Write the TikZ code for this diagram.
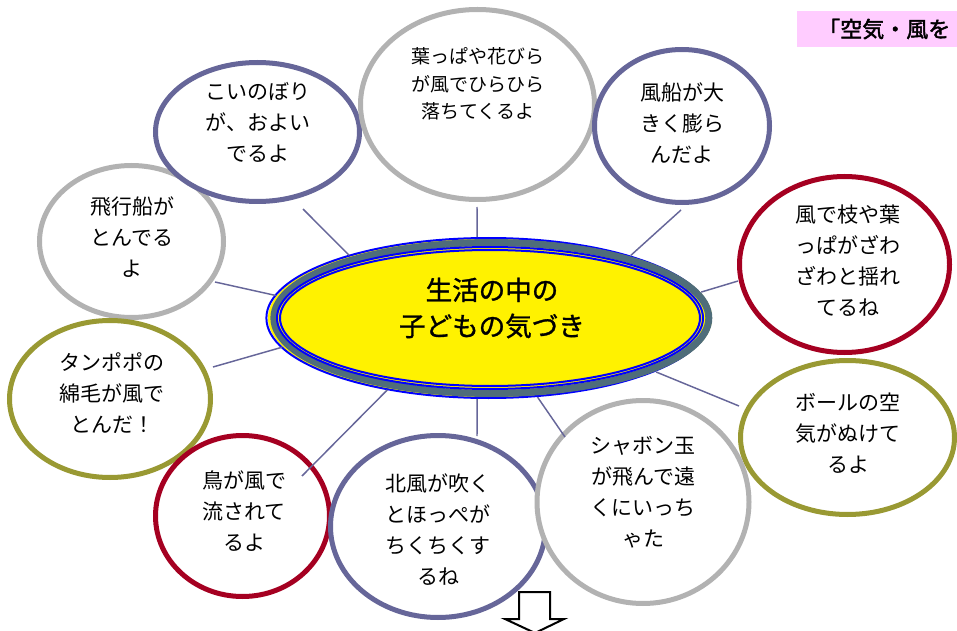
\documentclass[tikz,border=0pt]{standalone}
\usepackage{fontspec}
\setmainfont{Noto Sans CJK JP}
\newfontfamily\jpbold[FakeBold=2]{Noto Sans CJK JP}
\newfontfamily\jpmed[FakeBold=1.2]{Noto Sans CJK JP}
\usetikzlibrary{shapes.geometric}
\definecolor{slate}{HTML}{666699}
\definecolor{ringgray}{HTML}{B2B2B2}
\definecolor{ringred}{HTML}{A50021}
\definecolor{olive}{HTML}{999933}
\definecolor{band}{HTML}{4F6D7A}
\definecolor{pinklab}{HTML}{FFCCFF}
\begin{document}
\begin{tikzpicture}[x=0.75pt,y=-0.75pt,
  ring/.style n args={3}{ellipse, draw=#1, fill=white, line width=3.75pt,
    inner sep=0pt, outer sep=0pt,
    minimum width={(#2-5)*0.75pt}, minimum height={(#3-5)*0.75pt}},
  txt/.style={align=center, inner sep=0pt, font=\fontsize{15.75}{23.25}\selectfont},
  txtsmall/.style={align=center, inner sep=0pt, font=\fontsize{14.25}{20.6}\selectfont},
  conn/.style={draw=slate, line width=1.1pt}]
\useasboundingbox (0,0) rectangle (957,631);
\clip (0,0) rectangle (957,631);

% title label (cut off at the right edge)
\node[anchor=west, fill=pinklab, minimum height=27pt, inner xsep=15.75pt, inner ysep=0pt,
      font=\jpbold\fontsize{16.5}{16.5}\selectfont] (L) at (797,29) {「空気・風を};

% circles
\node[ring={ringgray}{189}{157}] (c10) at (131.5,241.5) {};
\node[ring={slate}{209}{144}] (c1) at (257.5,132) {};
\node[ring={ringgray}{239}{195}] (c2) at (477.5,104.5) {};
\node[ring={slate}{180}{158}] (c3) at (682,126) {};
\node[ring={ringred}{215}{181}] (c4) at (844.5,264.5) {};
\node[ring={olive}{219}{159}] (c5) at (847.5,437.5) {};
\node[ring={olive}{206}{162}] (c9) at (110,399) {};
\node[ring={ringred}{179}{166}] (c8) at (242.5,516) {};
\node[ring={slate}{220}{187}] (c7) at (438,526.5) {};
\node[ring={ringgray}{217}{208}] (c6) at (643,502) {};

% central ellipse
\node[ellipse, minimum width=334.5pt, minimum height=121.5pt, inner sep=0pt, outer sep=0pt] (E) at (490,318) {};
\fill[yellow] (E.center) ellipse [x radius=166.5pt, y radius=60pt];
\draw[blue, line width=1.5pt] ([xshift=-1.2pt]E.center) ellipse [x radius=166.5pt, y radius=60pt];
\draw[band, line width=5.25pt] ([xshift=1pt]E.center) ellipse [x radius=163.1pt, y radius=56.6pt];
\draw[blue, line width=1.5pt] (E.center) ellipse [x radius=159.75pt, y radius=53.25pt];
\draw[blue, line width=1.5pt] (E.center) ellipse [x radius=157.5pt, y radius=51pt];
\node[align=center, inner sep=0pt, font=\jpmed\fontsize{19.9}{27}\selectfont] (t0) at (492,308) {生活の中の\\子どもの気づき};

% connectors
\coordinate (k1) at (303,209);
\coordinate (k2) at (477,207);
\coordinate (k3) at (681,210);
\coordinate (k4) at (738,281);
\coordinate (k5) at (739,406);
\coordinate (k6) at (565,437);
\coordinate (k7) at (477,436);
\coordinate (k8) at (302,476);
\coordinate (k9) at (213,367);
\coordinate (k10) at (215,282);
\draw[conn] (E.156) -- (k1);
\draw[conn] (E.99) -- (k2);
\draw[conn] (E.24) -- (k3);
\draw[conn] (E.7) -- (k4);
\draw[conn] (E.342) -- (k5);
\draw[conn] (E.301) -- (k6);
\draw[conn] (E.261) -- (k7);
\draw[conn] (E.215) -- (k8);
\draw[conn] (E.188) -- (k9);
\draw[conn] (E.174) -- (k10);

% texts
\node[txt] (t1) at (258,122) {こいのぼり\\が、およい\\でるよ};
\node[txtsmall] (t2) at (478,84) {葉っぱや花びら\\が風でひらひら\\落ちてくるよ};
\node[txt] (t3) at (682,123) {風船が大\\きく膨ら\\んだよ};
\node[txt] (t4) at (848,260.5) {風で枝や葉\\っぱがざわ\\ざわと揺れ\\てるね};
\node[txt] (t5) at (848,433) {ボールの空\\気がぬけて\\るよ};
\node[txt] (t6) at (643,492.5) {シャボン玉\\が飛んで遠\\くにいっち\\ゃた};
\node[txt] (t7) at (438,530) {北風が吹く\\とほっぺが\\ちくちくす\\るね};
\node[txt] (t8) at (244,511.5) {鳥が風で\\流されて\\るよ};
\node[txt] (t9) at (112,393.5) {タンポポの\\綿毛が風で\\とんだ！};
\node[txt] (t10) at (132,237.5) {飛行船が\\とんでる\\よ};

% down arrow
\draw[line width=1.5pt, fill=white, line join=miter] (519,592) -- (550,592) -- (550,619) -- (564,619)
  -- (535,633) -- (505,619) -- (519,619) -- cycle;
\end{tikzpicture}
\end{document}
